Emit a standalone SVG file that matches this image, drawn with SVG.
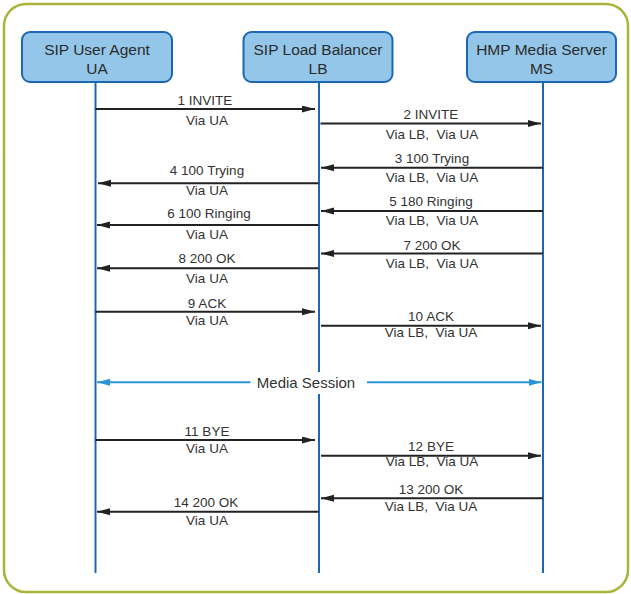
<svg xmlns="http://www.w3.org/2000/svg" width="631" height="594" viewBox="0 0 631 594">
<style>
.frame{fill:#fff;stroke:#a9b43c;stroke-width:2.5}
.box{fill:#94c6e9;stroke:#1d68b3;stroke-width:2}
.bt{font-family:"Liberation Sans",Arial,sans-serif;font-size:15.5px;fill:#2b2b2b;text-anchor:middle}
.life{stroke:#1d68b3;stroke-width:2}
.msg{stroke:#222;stroke-width:2;fill:none;marker-end:url(#ah)}
.lt{font-family:"Liberation Sans",Arial,sans-serif;font-size:13.5px;fill:#333;text-anchor:middle}
.media{stroke:#2a95d4;stroke-width:2;fill:none;marker-start:url(#bh);marker-end:url(#bh)}
</style>
<defs>
<marker id="ah" markerUnits="userSpaceOnUse" markerWidth="14" markerHeight="8" refX="13" refY="3.5" orient="auto"><path d="M0,0 L13,3.5 L0,7 z" fill="#222"/></marker>
<marker id="bh" markerUnits="userSpaceOnUse" markerWidth="14" markerHeight="8" refX="13" refY="3.5" orient="auto-start-reverse"><path d="M0,0 L13,3.5 L0,7 z" fill="#2a95d4"/></marker>
</defs>
<rect class="frame" x="4" y="4" width="624" height="588" rx="22" ry="22"/>
<g id="lifelines">
<line class="life" x1="95.5" y1="82" x2="95.5" y2="573"/>
<line class="life" x1="319" y1="82" x2="319" y2="573"/>
<line class="life" x1="543" y1="82" x2="543" y2="573"/>
</g>
<g id="ua"><rect class="box" x="22" y="32" width="150" height="50" rx="8"/><text class="bt" x="97" y="54.5">SIP User Agent</text><text class="bt" x="97" y="73.5">UA</text></g>
<g id="lb"><rect class="box" x="243.5" y="32" width="149" height="50" rx="8"/><text class="bt" x="318" y="54.5">SIP Load Balancer</text><text class="bt" x="318" y="73.5">LB</text></g>
<g id="ms"><rect class="box" x="467" y="32" width="149" height="50" rx="8"/><text class="bt" x="541.5" y="54.5">HMP Media Server</text><text class="bt" x="541.5" y="73.5">MS</text></g>
<g id="connectors">
<line class="msg" x1="95.5" y1="109" x2="315" y2="109"/>
<line class="msg" x1="320.5" y1="123.5" x2="541" y2="123.5"/>
<line class="msg" x1="543" y1="167.7" x2="321" y2="167.7"/>
<line class="msg" x1="318.5" y1="183.3" x2="98" y2="183.3"/>
<line class="msg" x1="543" y1="211" x2="321" y2="211"/>
<line class="msg" x1="318.5" y1="225" x2="97" y2="225"/>
<line class="msg" x1="543" y1="253.5" x2="321" y2="253.5"/>
<line class="msg" x1="318.5" y1="268.3" x2="97" y2="268.3"/>
<line class="msg" x1="95.5" y1="311.7" x2="315" y2="311.7"/>
<line class="msg" x1="321" y1="325.7" x2="541" y2="325.7"/>
<line class="msg" x1="95.5" y1="440" x2="315" y2="440"/>
<line class="msg" x1="321" y1="455.7" x2="541" y2="455.7"/>
<line class="msg" x1="543" y1="498.3" x2="321" y2="498.3"/>
<line class="msg" x1="318.5" y1="511.7" x2="97" y2="511.7"/>
<line class="media" x1="97" y1="382.3" x2="541.5" y2="382.3"/>
<rect x="250.5" y="372" width="116.5" height="22" fill="#fff"/>
</g>
<g id="labels">
<text class="lt" x="205" y="105">1 INVITE</text><text class="lt" x="207" y="125">Via UA</text>
<text class="lt" x="431" y="118.5">2 INVITE</text><text class="lt" x="432" y="138.5">Via LB,&#160; Via UA</text>
<text class="lt" x="432" y="162.5">3 100 Trying</text><text class="lt" x="432" y="181.5">Via LB,&#160; Via UA</text>
<text class="lt" x="207" y="175">4 100 Trying</text><text class="lt" x="207" y="195">Via UA</text>
<text class="lt" x="431" y="206">5 180 Ringing</text><text class="lt" x="432" y="224.5">Via LB,&#160; Via UA</text>
<text class="lt" x="209" y="218">6 100 Ringing</text><text class="lt" x="207" y="239">Via UA</text>
<text class="lt" x="432" y="249.5">7 200 OK</text><text class="lt" x="432" y="267.5">Via LB,&#160; Via UA</text>
<text class="lt" x="207" y="263">8 200 OK</text><text class="lt" x="207" y="283">Via UA</text>
<text class="lt" x="207" y="308">9 ACK</text><text class="lt" x="207" y="324.5">Via UA</text>
<text class="lt" x="431" y="320.5">10 ACK</text><text class="lt" x="431" y="337">Via LB,&#160; Via UA</text>
<text class="lt" x="306" y="387.5" style="font-size:15px">Media Session</text>
<text class="lt" x="207" y="435.5">11 BYE</text><text class="lt" x="207" y="453">Via UA</text>
<text class="lt" x="431" y="451">12 BYE</text><text class="lt" x="432" y="466">Via LB,&#160; Via UA</text>
<text class="lt" x="431" y="493.5">13 200 OK</text><text class="lt" x="431" y="511">Via LB,&#160; Via UA</text>
<text class="lt" x="206" y="507">14 200 OK</text><text class="lt" x="207" y="524.5">Via UA</text>
</g>
</svg>
